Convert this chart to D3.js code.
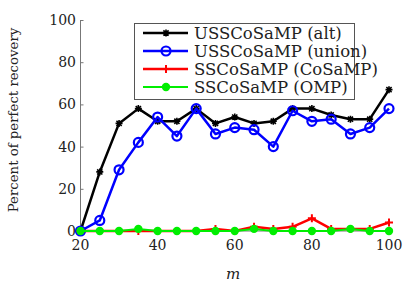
<!DOCTYPE html>
<html>
<head>
<meta charset="utf-8">
<script src="https://cdn.jsdelivr.net/npm/d3@7"></script>
<style>
  body { margin: 0; background: #fff; }
</style>
</head>
<body>
<svg width="415" height="290"></svg>
<script>
var mValues = [20, 25, 30, 35, 40, 45, 50, 55, 60, 65, 70, 75, 80, 85, 90, 95, 100]
var altValues = [0, 28, 51, 58, 52, 52, 58, 51, 54, 51, 52, 58, 58, 55, 53, 53, 67]
var unionValues = [0, 5, 29, 42, 54, 45, 58, 46, 49, 48, 40, 57, 52, 53, 46, 49, 58]
var cosampValues = [0, 0, 0, 0, 0, 0, 0, 1, 0, 2, 1, 2, 6, 1, 1, 1, 4]
var ompValues = [0, 0, 0, 1, 0, 0, 0, 0, 0, 1, 0, 0, 0, 0, 1, 0, 0]
var xTicks = [20, 40, 60, 80, 100]
var yTicks = [0, 20, 40, 60, 80, 100]
var seriesNames = ["USSCoSaMP (alt)", "USSCoSaMP (union)", "SSCoSaMP (CoSaMP)", "SSCoSaMP (OMP)"]

var font = "'DejaVu Serif', 'Liberation Serif', serif"

var series = [
  {name: seriesNames[0], values: altValues, color: "#000", marker: "star", width: 2.5},
  {name: seriesNames[1], values: unionValues, color: "#0000ff", marker: "circle", width: 2.5},
  {name: seriesNames[2], values: cosampValues, color: "#ff0000", marker: "plus", width: 2.5},
  {name: seriesNames[3], values: ompValues, color: "#00ee00", marker: "dot", width: 2}
]

var svg = d3.select("svg")
var x = d3.scaleLinear().domain([20, 100]).range([80.5, 389])
var y = d3.scaleLinear().domain([0, 100]).range([231, 20])

// axes (left and bottom only, small inward ticks)
var yAxis = svg.append("g").attr("transform", "translate(80.5,0)")
  .call(d3.axisRight(y).tickValues(yTicks).tickSize(3).tickFormat(""))
yAxis.selectAll("line, path").attr("stroke", "#777")
yAxis.select("path").attr("d", "M0,20V231")
var xAxis = svg.append("g").attr("transform", "translate(0,231)")
  .call(d3.axisTop(x).tickValues(xTicks).tickSize(3).tickFormat(""))
xAxis.selectAll("line, path").attr("stroke", "#777")
xAxis.select("path").attr("d", "M80.5,0H389")

svg.append("g").selectAll("text").data(yTicks).enter().append("text")
  .attr("x", 76).attr("y", function(d) { return y(d) + 5 })
  .attr("text-anchor", "end").attr("font-size", 14).attr("font-family", font).attr("fill", "#222")
  .text(function(d) { return d })
svg.append("g").selectAll("text").data(xTicks).enter().append("text")
  .attr("x", function(d) { return x(d) }).attr("y", 250)
  .attr("text-anchor", "middle").attr("font-size", 14).attr("font-family", font).attr("fill", "#222")
  .text(function(d) { return d })

svg.append("text").attr("transform", "translate(18,120) rotate(-90)")
  .attr("text-anchor", "middle").attr("font-size", 13.3).attr("font-family", font).attr("fill", "#222")
  .text("Percent of perfect recovery")
svg.append("text").attr("x", 233).attr("y", 279)
  .attr("text-anchor", "middle").attr("font-size", 15).attr("font-style", "italic")
  .attr("font-family", font).attr("fill", "#222")
  .text("m")

var line = d3.line()
  .x(function(d, i) { return x(mValues[i]) })
  .y(function(d) { return y(d) })

function drawMarker(g, type, color, cx, cy) {
  if (type == "star") {
    var p = "M" + (cx - 3.5) + "," + cy + "h7M" + cx + "," + (cy - 3.5) + "v7" +
      "M" + (cx - 2.6) + "," + (cy - 2.6) + "l5.2,5.2M" + (cx - 2.6) + "," + (cy + 2.6) + "l5.2,-5.2"
    g.append("path").attr("d", p).attr("stroke", color).attr("stroke-width", 1.6).attr("fill", "none")
  } else if (type == "circle") {
    g.append("circle").attr("cx", cx).attr("cy", cy).attr("r", 4.5)
      .attr("fill", "none").attr("stroke", color).attr("stroke-width", 2.2)
  } else if (type == "plus") {
    var q = "M" + (cx - 4) + "," + cy + "h8M" + cx + "," + (cy - 4) + "v8"
    g.append("path").attr("d", q).attr("stroke", color).attr("stroke-width", 2).attr("fill", "none")
  } else {
    g.append("circle").attr("cx", cx).attr("cy", cy).attr("r", 4.2).attr("fill", color)
  }
}

series.forEach(function(s) {
  var g = svg.append("g")
  g.append("path").datum(s.values).attr("d", line)
    .attr("fill", "none").attr("stroke", s.color).attr("stroke-width", s.width)
    .attr("stroke-linejoin", "round")
  s.values.forEach(function(v, i) {
    drawMarker(g, s.marker, s.color, x(mValues[i]), y(v))
  })
})

// legend
var legend = svg.append("g")
legend.append("rect").attr("x", 134.5).attr("y", 23.5).attr("width", 220).attr("height", 76)
  .attr("fill", "#fff").attr("stroke", "#555").attr("stroke-width", 1)
series.forEach(function(s, i) {
  var ly = 33 + i * 18
  legend.append("line").attr("x1", 143).attr("x2", 188).attr("y1", ly).attr("y2", ly)
    .attr("stroke", s.color).attr("stroke-width", s.width)
  drawMarker(legend, s.marker, s.color, 166, ly)
  legend.append("text").attr("x", 194).attr("y", ly + 5.5).attr("font-size", 16.5)
    .attr("font-family", font).attr("fill", "#222")
    .text(s.name)
})
</script>
</body>
</html>
